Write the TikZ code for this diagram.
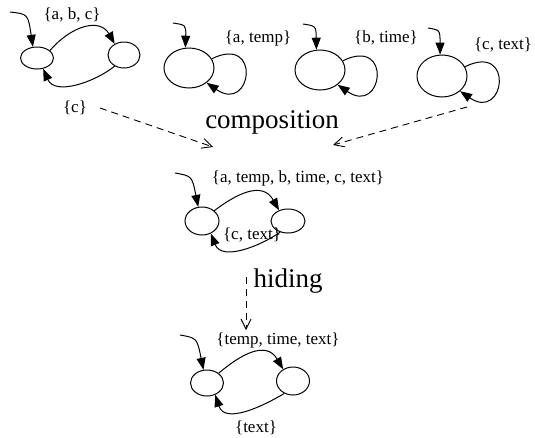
\documentclass[tikz,border=0pt]{standalone}
\usepackage{fontspec}
\setmainfont{Liberation Serif}
\usetikzlibrary{shapes.geometric,arrows.meta}
\begin{document}
\begin{tikzpicture}[x=1pt,y=-1pt,
  state/.style={draw,ellipse,line width=1pt,inner sep=0pt},
  trans/.style={line width=1pt,-{Triangle[length=12pt,width=9pt]}},
  op/.style={line width=0.9pt,dash pattern=on 7pt off 5pt,-{Straight Barb[length=10pt,width=10pt]}},
  lab/.style={font=\fontsize{17}{20}\selectfont,inner sep=0pt},
  big/.style={font=\fontsize{27}{30}\selectfont,inner sep=0pt}]
\useasboundingbox (0,0) rectangle (535,437);

% first component: two states
\node[state,minimum width=33pt,minimum height=22pt] (L1) at (37,58) {};
\node[state,minimum width=32pt,minimum height=26pt] (R1) at (124,55) {};
\coordinate (i1) at (10,12);
\draw[trans] (i1) .. controls (28,14) .. (L1.110);
\draw[trans] (L1.30) .. controls (72,25) and (100,18) .. (R1.130);
\draw[trans] (R1.-130) .. controls (95,82) and (55,96) .. (L1.-60);
\node[lab] (l1a) at (72,15) {\{a, b, c\}};
\node[lab] (l1b) at (75,108) {\{c\}};

% second component
\node[state,minimum width=50pt,minimum height=40pt] (E2) at (189,68) {};
\coordinate (i2) at (173,23);
\draw[trans] (i2) .. controls (186,25) .. (E2.100);
\draw[trans] (E2.22) .. controls (262,34) and (252,114) .. (E2.-40);
\node[lab] (l2) at (258,38) {\{a, temp\}};

% third component
\node[state,minimum width=50pt,minimum height=40pt] (E3) at (320,70) {};
\coordinate (i3) at (303,24);
\draw[trans] (i3) .. controls (316,26) .. (E3.100);
\draw[trans] (E3.22) .. controls (393,36) and (383,116) .. (E3.-40);
\node[lab] (l3) at (386,38) {\{b, time\}};

% fourth component
\node[state,minimum width=50pt,minimum height=42pt] (E4) at (442,76) {};
\coordinate (i4) at (428,28);
\draw[trans] (i4) .. controls (440,30) .. (E4.95);
\draw[trans] (E4.22) .. controls (515,42) and (505,122) .. (E4.-40);
\node[lab] (l4) at (503,45) {\{c, text\}};

% composition
\node[big] (comp) at (272,122) {composition};
\coordinate (c1s) at (100,108);
\coordinate (c1e) at (213,147);
\coordinate (c2s) at (467,107);
\coordinate (c2e) at (333,145);
\draw[op] (c1s) -- (c1e);
\draw[op] (c2s) -- (c2e);

% composed system
\node[state,minimum width=34pt,minimum height=28pt] (ML) at (202,221) {};
\node[state,minimum width=34pt,minimum height=24pt] (MR) at (288,221) {};
\coordinate (im) at (175,173);
\draw[trans] (im) .. controls (192,176) .. (ML.105);
\draw[trans] (ML.40) .. controls (235,195) and (262,180) .. (MR.130);
\draw[trans] (MR.-125) .. controls (262,245) and (222,262) .. (ML.-55);
\node[lab] (lm1) at (298,178) {\{a, temp, b, time, c, text\}};
\node[lab] (lm2) at (252,235) {\{c, text\}};

% hiding
\node[big] (hide) at (288,281) {hiding};
\coordinate (h1) at (246,277);
\coordinate (h2) at (246,330);
\draw[op] (h1) -- (h2);

% system after hiding
\node[state,minimum width=33pt,minimum height=26pt] (BL) at (207,383) {};
\node[state,minimum width=33pt,minimum height=28pt] (BR) at (293,381) {};
\coordinate (ib) at (180,335);
\draw[trans] (ib) .. controls (197,338) .. (BL.105);
\draw[trans] (BL.40) .. controls (240,355) and (266,340) .. (BR.130);
\draw[trans] (BR.-125) .. controls (265,405) and (225,425) .. (BL.-55);
\node[lab] (lb1) at (278,340) {\{temp, time, text\}};
\node[lab] (lb2) at (256,428) {\{text\}};
\end{tikzpicture}
\end{document}
